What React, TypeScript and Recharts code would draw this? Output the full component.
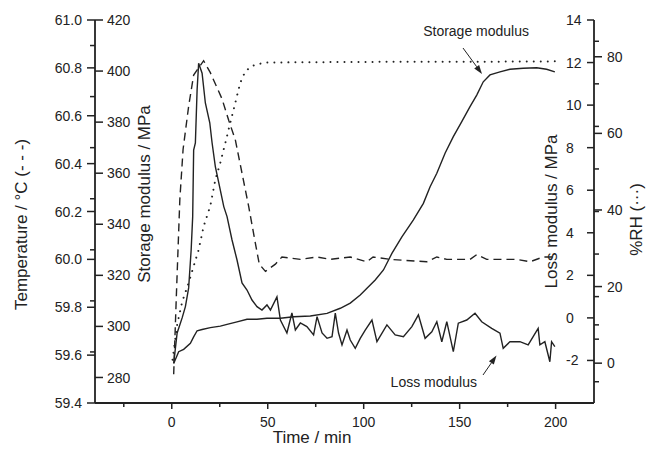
import React from "react";
import { LineChart, Line, XAxis, YAxis } from "recharts";

const FONT = '"Liberation Sans", Arial, Helvetica, sans-serif';
const INK = "#222";

// Temperature / °C (dashed)
const tempTime = [1.0, 2.4, 4.2, 5.9, 8.8, 11.4, 16.6, 20.1, 26.2, 29.7, 33.1, 36.6, 40.1, 43.5, 45.6, 48.8, 54.0, 57.4, 67.0, 75.7, 82.6, 93.0, 101.7, 104.9, 113.7, 132.9, 138.1, 143.3, 155.4, 158.9, 164.1, 179.7, 186.6, 193.5, 199.6];
const tempValues = [59.52, 59.85, 60.25, 60.46, 60.64, 60.77, 60.83, 60.78, 60.67, 60.58, 60.5, 60.36, 60.22, 60.07, 59.98, 59.95, 59.98, 60.01, 60.0, 60.01, 60.0, 60.01, 59.99, 60.01, 60.0, 59.99, 60.01, 60.0, 60.0, 60.02, 60.0, 60.0, 59.99, 60.01, 60.01];

// %RH (dotted)
const rhTime = [0.4, 2.8, 5.4, 8.8, 11.4, 14.0, 16.6, 20.1, 22.7, 25.3, 27.9, 30.5, 33.1, 35.7, 38.3, 41.8, 46.1, 49.6, 80, 120, 160, 200];
const rhValues = [0.9, 10.0, 16.0, 21.0, 25.3, 29.6, 35.7, 41.1, 47.9, 52.3, 57.5, 62.8, 68.0, 73.2, 76.2, 77.6, 78.2, 78.5, 78.6, 78.7, 78.7, 78.8];

// Storage modulus / MPa (smooth solid)
const storageTime = [1.0, 3.6, 6.2, 9.7, 11.4, 13.2, 15.8, 20.1, 25.3, 28.8, 34.0, 39.2, 44.4, 49.6, 56.6, 63.5, 72.2, 80.9, 87.8, 93.0, 98.2, 101.7, 106.0, 110.3, 114.7, 119.9, 125.9, 131.1, 134.6, 138.1, 142.4, 146.7, 151.1, 155.4, 158.9, 162.3, 165.8, 171.0, 176.2, 183.1, 190.1, 195.3, 199.6];
const storageValues = [285.5, 290.1, 291.0, 293.4, 295.9, 298.3, 298.8, 299.5, 300.1, 300.8, 301.8, 302.8, 302.8, 303.2, 303.2, 303.8, 304.1, 305.1, 307.1, 309.1, 312.3, 314.9, 318.2, 322.1, 328.6, 335.1, 341.7, 348.2, 354.7, 360.0, 367.8, 374.3, 380.2, 386.1, 390.6, 395.8, 398.5, 399.7, 400.7, 401.1, 401.3, 400.7, 399.7];

// Loss modulus / MPa (peaked, then noisy solid)
const lossTime = [1.0, 2.8, 5.4, 7.1, 8.8, 10.1, 10.9, 11.4, 12.3, 13.2, 14.0, 15.8, 17.5, 19.8, 21.0, 22.7, 24.5, 27.1, 28.8, 31.4, 34.0, 36.6, 39.2, 41.8, 44.4, 47.0, 49.6, 51.4, 54.8, 56.6, 60.0, 62.6, 64.4, 67.0, 70.4, 73.9, 75.7, 78.3, 80.9, 83.5, 85.2, 86.9, 88.7, 91.3, 93.0, 95.6, 98.2, 100.8, 104.3, 106.9, 112.1, 116.4, 120.7, 125.1, 128.5, 132.0, 135.5, 138.1, 140.7, 143.3, 146.7, 149.3, 153.7, 158.0, 161.5, 166.7, 171.0, 172.7, 176.2, 181.4, 185.7, 188.3, 190.9, 191.8, 194.4, 197.0, 197.9, 199.6];
const lossValues = [-2.13, -0.71, 0.0, 0.53, 1.41, 3.19, 4.76, 7.89, 8.22, 10.71, 11.97, 11.5, 10.1, 9.17, 8.23, 7.11, 6.35, 5.23, 4.76, 3.66, 2.72, 1.64, 1.31, 0.84, 0.53, 0.37, 0.61, 0.37, 0.99, -0.1, -0.71, 0.23, -0.57, -0.24, -0.41, -0.8, 0.06, -0.71, -0.96, -0.88, 0.22, -0.71, -1.27, -0.57, -1.04, -1.43, -0.96, -0.57, -0.1, -1.12, -0.33, -0.8, -0.88, -0.41, 0.14, -0.96, -0.65, -0.18, -1.12, -0.18, -1.59, -0.25, -0.1, 0.22, -0.18, -0.49, -0.72, -1.43, -1.12, -1.12, -1.27, -0.88, -0.49, -1.27, -1.12, -2.06, -1.12, -1.35];

// ticks
const timeTicks = [-25, 0, 25, 50, 75, 100, 125, 150, 175, 200];
const timeMajors = [0, 50, 100, 150, 200];
const tempTicks = [59.4, 59.6, 59.8, 60.0, 60.2, 60.4, 60.6, 60.8, 61.0];
const storageTicks = [280, 290, 300, 310, 320, 330, 340, 350, 360, 370, 380, 390, 400, 410, 420];
const storageMajors = [280, 300, 320, 340, 360, 380, 400, 420];
const lossTicks = [-3, -2, -1, 0, 1, 2, 3, 4, 5, 6, 7, 8, 9, 10, 11, 12, 13, 14];
const lossMajors = [-2, 0, 2, 4, 6, 8, 10, 12, 14];
const rhTicks = [0, 10, 20, 40, 60, 80];
const rhMajors = [0, 20, 40, 60, 80];

const zip = (t: number[], v: number[]) => t.map((x, i) => ({ t: x, v: v[i] }));
const tempData = zip(tempTime, tempValues);
const rhData = zip(rhTime, rhValues);
const storageData = zip(storageTime, storageValues);
const lossData = zip(lossTime, lossValues);

type TickSpec = {
  majors: number[] | null;
  fmt: (v: number) => string;
  majorDir: number;
  minorDir: number;
  majorLen: number;
  minorLen: number;
  labelDx: number;
  anchor: "start" | "end";
};

const isIn = (list: number[] | null, v: number) =>
  list === null || list.some((m) => Math.abs(m - v) < 1e-6);

function yTick(spec: TickSpec) {
  return (props: any) => {
    const { x, y, payload } = props;
    const v = payload.value;
    if (!isIn(spec.majors, v)) {
      return (
        <line x1={x} x2={x + spec.minorDir * spec.minorLen} y1={y} y2={y} stroke={INK} strokeWidth={1.5} />
      );
    }
    return (
      <g>
        <line x1={x} x2={x + spec.majorDir * spec.majorLen} y1={y} y2={y} stroke={INK} strokeWidth={1.5} />
        <text x={x + spec.labelDx} y={y} dy="0.36em" textAnchor={spec.anchor} fontSize={14} fontFamily={FONT} fill={INK}>
          {spec.fmt(v)}
        </text>
      </g>
    );
  };
}

function xTick(props: any) {
  const { x, y, payload } = props;
  const v = payload.value;
  if (!isIn(timeMajors, v)) {
    return <line x1={x} x2={x} y1={y} y2={y + 4} stroke={INK} strokeWidth={1.5} />;
  }
  return (
    <g>
      <line x1={x} x2={x} y1={y} y2={y + 6} stroke={INK} strokeWidth={1.5} />
      <text x={x} y={y + 24} textAnchor="middle" fontSize={14} fontFamily={FONT} fill={INK}>
        {v}
      </text>
    </g>
  );
}

function Arrow({ x1, y1, x2, y2 }: { x1: number; y1: number; x2: number; y2: number }) {
  const a = Math.atan2(y2 - y1, x2 - x1);
  const len = 9;
  const w = 3;
  const bx = x2 - len * Math.cos(a);
  const by = y2 - len * Math.sin(a);
  const px = -Math.sin(a) * w;
  const py = Math.cos(a) * w;
  return (
    <g>
      <line x1={x1} y1={y1} x2={bx} y2={by} stroke={INK} strokeWidth={1} />
      <polygon points={`${x2},${y2} ${bx + px},${by + py} ${bx - px},${by - py}`} fill={INK} />
    </g>
  );
}

const titleStyle = { fontSize: 17, fontFamily: FONT, fill: INK, fontWeight: 400 };

export default function App() {
  return (
    <div style={{ position: "absolute", left: 0, top: 0, width: 649, height: 455, background: "#fff" }}>
      <LineChart width={649} height={455} margin={{ top: 20, right: 15, bottom: 22, left: 35 }}>
        <XAxis
          type="number"
          dataKey="t"
          domain={[-40, 220]}
          allowDataOverflow
          ticks={timeTicks}
          interval={0}
          tickSize={0}
          tickMargin={0}
          tick={xTick}
          height={30}
          axisLine={{ stroke: INK, strokeWidth: 1.8 }}
          tickLine={false}
        />
        <YAxis
          yAxisId="temp"
          orientation="left"
          type="number"
          width={60}
          domain={[59.4, 61.0]}
          allowDataOverflow
          ticks={tempTicks}
          interval={0}
          tickSize={0}
          tickMargin={0}
          tickLine={false}
          axisLine={{ stroke: INK, strokeWidth: 1.8 }}
          tick={yTick({ majors: null, fmt: (v) => v.toFixed(1), majorDir: -1, minorDir: -1, majorLen: 8, minorLen: 5, labelDx: -13, anchor: "end" })}
        />
        <YAxis
          yAxisId="storage"
          orientation="left"
          mirror
          type="number"
          width={40}
          domain={[270, 420]}
          allowDataOverflow
          ticks={storageTicks}
          interval={0}
          tickSize={0}
          tickMargin={0}
          tickLine={false}
          axisLine={false}
          tick={yTick({ majors: storageMajors, fmt: (v) => String(v), majorDir: 1, minorDir: -1, majorLen: 8, minorLen: 5, labelDx: 12, anchor: "start" })}
        />
        <YAxis
          yAxisId="loss"
          orientation="right"
          mirror
          type="number"
          width={40}
          domain={[-4, 14]}
          allowDataOverflow
          ticks={lossTicks}
          interval={0}
          tickSize={0}
          tickMargin={0}
          tickLine={false}
          axisLine={false}
          tick={yTick({ majors: lossMajors, fmt: (v) => String(v), majorDir: -1, minorDir: 1, majorLen: 7, minorLen: 5, labelDx: -28, anchor: "start" })}
        />
        <YAxis
          yAxisId="rh"
          orientation="right"
          type="number"
          width={40}
          domain={[-10.4, 89.6]}
          allowDataOverflow
          ticks={rhTicks}
          interval={0}
          tickSize={0}
          tickMargin={0}
          tickLine={false}
          axisLine={{ stroke: INK, strokeWidth: 1.8 }}
          tick={yTick({ majors: rhMajors, fmt: (v) => String(v), majorDir: 1, minorDir: 1, majorLen: 8, minorLen: 5, labelDx: 13, anchor: "start" })}
        />
        <Line
          yAxisId="rh"
          data={rhData}
          dataKey="v"
          type="linear"
          stroke={INK}
          strokeWidth={2}
          strokeDasharray="0.01 7"
          strokeLinecap="round"
          dot={false}
          isAnimationActive={false}
        />
        <Line
          yAxisId="temp"
          data={tempData}
          dataKey="v"
          type="linear"
          stroke={INK}
          strokeWidth={1.4}
          strokeDasharray="8 5"
          dot={false}
          isAnimationActive={false}
        />
        <Line
          yAxisId="storage"
          data={storageData}
          dataKey="v"
          type="linear"
          stroke={INK}
          strokeWidth={1.4}
          dot={false}
          isAnimationActive={false}
        />
        <Line
          yAxisId="loss"
          data={lossData}
          dataKey="v"
          type="linear"
          stroke={INK}
          strokeWidth={1.4}
          dot={false}
          isAnimationActive={false}
        />
      </LineChart>
      <svg width={649} height={455} style={{ position: "absolute", left: 0, top: 0, pointerEvents: "none" }}>
        <text transform="translate(27,224.5) rotate(-90)" textAnchor="middle" {...titleStyle}>
          Temperature / °C (- - -)
        </text>
        <text transform="translate(150,194) rotate(-90)" textAnchor="middle" {...titleStyle}>
          Storage modulus / MPa
        </text>
        <text transform="translate(556.5,211.5) rotate(-90)" textAnchor="middle" {...titleStyle}>
          Loss modulus / MPa
        </text>
        <text transform="translate(642,219.5) rotate(-90)" textAnchor="middle" {...titleStyle}>
          %RH (···)
        </text>
        <text x={312} y={443} textAnchor="middle" {...titleStyle}>
          Time / min
        </text>
        <text x={529} y={36} textAnchor="end" fontSize={14} fontFamily={FONT} fill={INK}>
          Storage modulus
        </text>
        <Arrow x1={463} y1={48} x2={482} y2={74} />
        <text x={477} y={387} textAnchor="end" fontSize={14} fontFamily={FONT} fill={INK}>
          Loss modulus
        </text>
        <Arrow x1={483} y1={375} x2={496.5} y2={355.5} />
      </svg>
    </div>
  );
}
